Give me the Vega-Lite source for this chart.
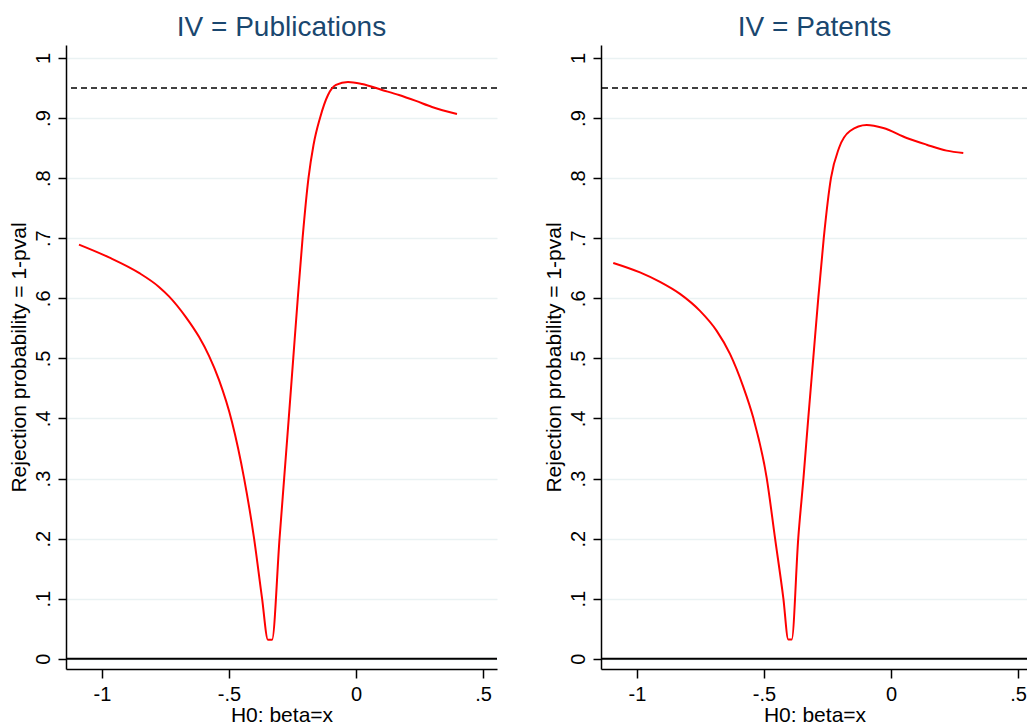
{
  "$schema": "https://vega.github.io/schema/vega-lite/v6.json",
  "background": "white",
  "padding": {"left": 7, "top": 14, "right": 0, "bottom": 0},
  "config": {
    "font": "Liberation Sans",
    "view": {"stroke": null},
    "concat": {"spacing": 44},
    "title": {"fontSize": 28, "fontWeight": "normal", "color": "#1a476f", "anchor": "middle", "offset": 3, "font": "Liberation Sans"},
    "axis": {
      "domainColor": "#000000", "domainWidth": 1.5, "tickColor": "#000000", "tickWidth": 1.5,
      "labelFontSize": 20, "titleFontSize": 21, "titleFontWeight": "normal", "labelColor": "#000000", "titleColor": "#000000",
      "labelOverlap": false, "labelFlush": false, "labelFont": "Liberation Sans", "titleFont": "Liberation Sans"
    },
    "axisY": {"labelAngle": -90, "labelAlign": "center", "labelBaseline": "bottom", "labelPadding": 5, "tickSize": 8, "grid": true, "gridColor": "#eaf2f3", "gridWidth": 1.5, "titlePadding": 4},
    "axisX": {"grid": false, "tickSize": 9, "labelPadding": 6, "titlePadding": 0}
  },
  "datasets": {
    "pub": [
      {"x": -1.0906, "y": 0.6894}, {"x": -0.9724, "y": 0.6681}, {"x": -0.8543, "y": 0.6423}, {"x": -0.7756, "y": 0.6190},
      {"x": -0.7362, "y": 0.6032}, {"x": -0.6705, "y": 0.5691}, {"x": -0.6181, "y": 0.5358}, {"x": -0.5787, "y": 0.5042},
      {"x": -0.5394, "y": 0.4642}, {"x": -0.4882, "y": 0.3943}, {"x": -0.4409, "y": 0.3012}, {"x": -0.4016, "y": 0.2013},
      {"x": -0.3701, "y": 0.1015}, {"x": -0.3465, "y": 0.0316}, {"x": -0.3307, "y": 0.0316}, {"x": -0.3008, "y": 0.2013},
      {"x": -0.2827, "y": 0.3012}, {"x": -0.2646, "y": 0.4010}, {"x": -0.2469, "y": 0.5008}, {"x": -0.2291, "y": 0.6007},
      {"x": -0.2102, "y": 0.7005}, {"x": -0.1870, "y": 0.8003}, {"x": -0.1673, "y": 0.8552}, {"x": -0.1417, "y": 0.9002},
      {"x": -0.1102, "y": 0.9384}, {"x": -0.0787, "y": 0.9551}, {"x": -0.0315, "y": 0.9601}, {"x": 0.0236, "y": 0.9567},
      {"x": 0.1024, "y": 0.9468}, {"x": 0.1693, "y": 0.9384}, {"x": 0.2362, "y": 0.9285}, {"x": 0.2992, "y": 0.9185},
      {"x": 0.3976, "y": 0.9068}
    ],
    "pat": [
      {"x": -1.0933, "y": 0.6589}, {"x": -0.9882, "y": 0.6431}, {"x": -0.9094, "y": 0.6273}, {"x": -0.8307, "y": 0.6073},
      {"x": -0.7520, "y": 0.5790}, {"x": -0.6862, "y": 0.5458}, {"x": -0.6339, "y": 0.5075}, {"x": -0.5815, "y": 0.4526},
      {"x": -0.5421, "y": 0.4010}, {"x": -0.4894, "y": 0.3012}, {"x": -0.4567, "y": 0.2013}, {"x": -0.4240, "y": 0.1015},
      {"x": -0.4043, "y": 0.0321}, {"x": -0.3909, "y": 0.0321}, {"x": -0.3650, "y": 0.2013}, {"x": -0.3445, "y": 0.3012},
      {"x": -0.3256, "y": 0.4010}, {"x": -0.3059, "y": 0.5008}, {"x": -0.2862, "y": 0.6007}, {"x": -0.2646, "y": 0.7005},
      {"x": -0.2362, "y": 0.8003}, {"x": -0.2047, "y": 0.8502}, {"x": -0.1614, "y": 0.8785}, {"x": -0.0957, "y": 0.8885},
      {"x": -0.0303, "y": 0.8835}, {"x": 0.0618, "y": 0.8669}, {"x": 0.1406, "y": 0.8557}, {"x": 0.2193, "y": 0.8458},
      {"x": 0.2846, "y": 0.8419}
    ],
    "dash": [{"ref": 0.95}],
    "zero": [{"ref": 0}]
  },
  "hconcat": [
    {
      "title": "IV = Publications",
      "width": 431, "height": 624,
      "layer": [
        {"data": {"name": "dash"}, "mark": {"type": "rule", "color": "#000000", "strokeWidth": 1.5, "strokeDash": [6, 4]},
         "encoding": {"y": {"field": "ref", "type": "quantitative", "title": "Rejection probability = 1-pval"}}},
        {"data": {"name": "zero"}, "mark": {"type": "rule", "color": "#000000", "strokeWidth": 2},
         "encoding": {"y": {"field": "ref", "type": "quantitative", "title": "Rejection probability = 1-pval"}}},
        {"data": {"name": "pub"}, "mark": {"type": "line", "color": "#ff0000", "strokeWidth": 2, "interpolate": "monotone"},
         "encoding": {
           "x": {"field": "x", "type": "quantitative", "title": "H0: beta=x", "scale": {"domain": [-1.1417, 0.5551], "nice": false, "zero": false},
                 "axis": {"values": [-1, -0.5, 0, 0.5], "labelExpr": "datum.value == 0 ? '0' : (datum.value < 0 ? '-' : '') + (abs(datum.value) >= 1 ? toString(abs(datum.value)) : slice(toString(abs(datum.value)), 1))"}},
           "y": {"field": "y", "type": "quantitative", "title": "Rejection probability = 1-pval", "scale": {"domain": [-0.017, 1.0216], "nice": false, "zero": false},
                 "axis": {"values": [0, 0.1, 0.2, 0.3, 0.4, 0.5, 0.6, 0.7, 0.8, 0.9, 1], "labelExpr": "datum.value == 0 ? '0' : (datum.value < 0 ? '-' : '') + (abs(datum.value) >= 1 ? toString(abs(datum.value)) : slice(toString(abs(datum.value)), 1))"}}
         }}
      ]
    },
    {
      "title": "IV = Patents",
      "width": 427, "height": 624,
      "layer": [
        {"data": {"name": "dash"}, "mark": {"type": "rule", "color": "#000000", "strokeWidth": 1.5, "strokeDash": [6, 4]},
         "encoding": {"y": {"field": "ref", "type": "quantitative", "title": "Rejection probability = 1-pval"}}},
        {"data": {"name": "zero"}, "mark": {"type": "rule", "color": "#000000", "strokeWidth": 2},
         "encoding": {"y": {"field": "ref", "type": "quantitative", "title": "Rejection probability = 1-pval"}}},
        {"data": {"name": "pat"}, "mark": {"type": "line", "color": "#ff0000", "strokeWidth": 2, "interpolate": "monotone"},
         "encoding": {
           "x": {"field": "x", "type": "quantitative", "title": "H0: beta=x", "scale": {"domain": [-1.1417, 0.5394], "nice": false, "zero": false},
                 "axis": {"values": [-1, -0.5, 0, 0.5], "labelExpr": "datum.value == 0 ? '0' : (datum.value < 0 ? '-' : '') + (abs(datum.value) >= 1 ? toString(abs(datum.value)) : slice(toString(abs(datum.value)), 1))"}},
           "y": {"field": "y", "type": "quantitative", "title": "Rejection probability = 1-pval", "scale": {"domain": [-0.017, 1.0216], "nice": false, "zero": false},
                 "axis": {"values": [0, 0.1, 0.2, 0.3, 0.4, 0.5, 0.6, 0.7, 0.8, 0.9, 1], "labelExpr": "datum.value == 0 ? '0' : (datum.value < 0 ? '-' : '') + (abs(datum.value) >= 1 ? toString(abs(datum.value)) : slice(toString(abs(datum.value)), 1))"}}
         }}
      ]
    }
  ]
}
